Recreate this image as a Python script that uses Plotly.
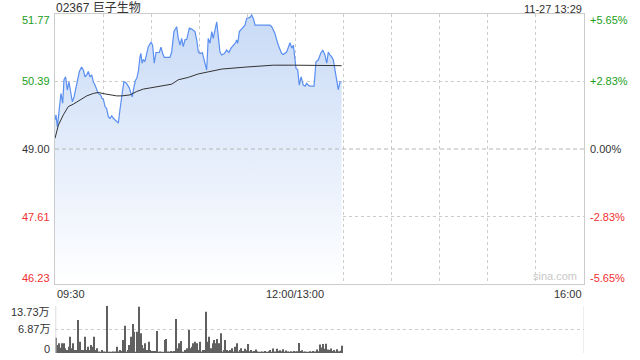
import plotly.graph_objects as go

# ---------------- data ----------------
price_t = [0, 0.6, 1.5, 2.7, 3.7, 4.8, 5.6, 6.6, 7.7, 8.7, 9.8, 10.8, 11.9, 13.5, 15.2, 16.6, 17.7, 18.7,
           19.8, 20.8, 21.8, 22.9, 23.9, 25, 26, 27, 28.5, 29.3, 30.2, 31.2, 32.2, 33.3, 34.3, 35.4, 36.4,
           37.4, 38.5, 39.5, 40.5, 41.2, 42.2, 43, 44.3, 45.3, 46.4, 47.4, 48.2, 49.3, 50.1, 51, 52, 53,
           53.6, 54.3, 55.1, 56.1, 57.2, 58.2, 59.9, 60.9, 61.9, 63, 65.1, 66.1, 67.2, 68.2, 71.7, 72.8,
           74.2, 75.9, 76.9, 78, 79, 80, 81.1, 82.2, 83.8, 85.3, 87.3, 88.4, 89.4, 90.5, 91.9, 93.1, 94.6,
           95.6, 96.7, 97.8, 98.7, 99.8, 100.9, 101.9, 102.9, 104, 105.6, 107.1, 108.5, 109.8, 111.2,
           112.7, 113.3, 114, 115, 116.5, 118.5, 119.6, 121.6, 122.7, 123.7, 124.8, 126.8, 134.1, 135.2,
           137.2, 138.3, 139.3, 141.4, 142.4, 144.5, 145.5, 146.6, 147.7, 148.7, 149.3, 150.3, 151.4,
           152.4, 153.5, 154.9, 156, 157, 158, 159.1, 161.6, 162.8, 164.3, 165.7, 167, 168.4, 169.5,
           170.5, 171.5, 172.6, 173.6, 174.7, 175.7, 176.7, 177.8, 178.8]
price_v = [49.60, 49.70, 49.46, 49.80, 50.14, 49.94, 50.42, 50.48, 50.21, 50.38, 50.14, 49.97, 50.07,
           50.35, 50.59, 50.68, 50.62, 50.48, 50.52, 50.59, 50.48, 50.52, 50.38, 50.31, 50.21, 50.14,
           50.11, 50.04, 50.02, 49.87, 49.83, 49.66, 49.63, 49.68, 49.63, 49.60, 49.56, 49.53, 49.80,
           50.01, 50.21, 50.38, 50.36, 50.31, 50.25, 50.14, 50.07, 50.28, 50.40, 50.45, 50.59, 50.89,
           50.96, 50.76, 50.83, 50.80, 50.96, 51.10, 51.19, 51.13, 50.76, 50.98, 50.98, 51.09, 50.96,
           50.88, 50.88, 50.99, 51.41, 51.51, 51.27, 51.13, 51.27, 51.10, 51.24, 51.25, 51.48, 51.46,
           51.41, 51.24, 50.99, 50.96, 50.98, 50.83, 50.62, 51.27, 51.17, 51.41, 51.27, 51.44, 51.61,
           51.30, 50.99, 50.93, 50.96, 51.03, 50.98, 51.07, 51.13, 51.18, 51.24, 51.17, 51.41, 51.46,
           51.54, 51.68, 51.70, 51.75, 51.68, 51.54, 51.54, 51.54, 51.51, 51.37, 51.24, 51.13, 50.96,
           50.94, 50.99, 51.10, 51.18, 51.07, 51.13, 50.96, 50.66, 50.62, 50.31, 50.48, 50.31, 50.29,
           50.35, 50.31, 50.29, 50.29, 50.79, 50.83, 50.96, 51.03, 50.93, 50.76, 50.99, 50.93, 50.89,
           50.83, 50.62, 50.45, 50.22, 50.38, 50.38]

avg_t = [0, 2.1, 5.2, 8.3, 11.4, 15.6, 19.8, 23.9, 27, 31.2, 38.5, 41.6, 46.8, 51, 55.1, 58.8, 64.5,
         72.8, 76.9, 83.2, 89.4, 97.8, 104, 118.5, 125.8, 136.2, 148.7, 178.8]
avg_v = [49.22, 49.49, 49.70, 49.87, 49.92, 50.01, 50.09, 50.14, 50.16, 50.13, 50.09, 50.09, 50.11,
         50.18, 50.23, 50.25, 50.28, 50.33, 50.42, 50.47, 50.54, 50.59, 50.64, 50.68, 50.70, 50.72,
         50.72, 50.71]

# volume in 万 shares, one bar per minute
volume = [4.4, 2.3, 2.8, 1.5, 2.8, 2.8, 1.4, 0.9, 1.8, 4.7, 1.4, 2.8, 0.9, 0.9, 9.6, 3.3, 0.9, 0.9,
          4.7, 0.9, 1.8, 0.9, 2.3, 1.8, 4.7, 0.9, 1.4, 0.4, 0.3, 0.9, 0.4, 0.2, 13.73, 0.1, 0.2, 0.2,
          0.4, 0.4, 1.8, 0.4, 0.9, 0.6, 3.8, 7.9, 0.2, 0.9, 2.3, 4.7, 8.4, 6.2, 0.3, 6.2, 13.4, 5.7,
          2.3, 1.4, 2.8, 0.9, 3.3,
          0.9, 0.6, 0.6, 0.6, 6.4, 0.2, 0.4, 0.2, 0.2, 3.8, 4.1, 0.4, 0.2, 0.6, 0.4, 0.6, 9.9, 1.4,
          2.8, 3.5, 0.4, 0.2, 0.9, 1.4, 6.7, 1.4, 1.8, 2.8, 3.3, 2.8, 0.9, 3.3, 0.4, 0.9, 0.9, 12.0,
          3.3, 4.7, 1.4, 2.8, 3.8, 2.8, 4.1, 2.8, 5.7, 0.4, 0.9, 3.8, 0.9, 0.6, 0.9, 1.4, 0.4, 1.8,
          2.8, 0.4, 0.9, 1.4, 0.6,
          1.2, 0.8, 2.6, 0.5, 0.9, 0.4, 0.6, 1.0, 0.5, 0.3,
          0.2, 0.4, 0.3, 0.6, 0.2, 0.5, 0.9, 0.3, 1.3, 0.4, 1.2, 0.6, 0.8,
          0.5, 1.1, 0.3, 0.7, 0.4, 0.2, 0.5, 0.3, 0.6, 0.4, 0.5, 2.9,
          0.6, 0.8, 0.3, 0.4, 0.2, 0.3, 0.5, 0.3, 0.6, 0.4, 1.0, 0.5, 2.5,
          1.6, 2.6, 1.2, 2.7, 1.0, 0.9, 1.3, 0.6, 0.9, 0.4, 1.1, 0.5, 0.7, 2.1]
vol_t = list(range(len(volume)))

y_ticks = [51.77, 50.39, 49.00, 47.61, 46.23]
y_labels = ["51.77", "50.39", "49.00", "47.61", "46.23"]
pct_labels = ["+5.65%", "+2.83%", "0.00%", "-2.83%", "-5.65%"]
label_colors = ["#1a9e1a", "#1a9e1a", "#333333", "#f03030", "#f03030"]
label_shift = [-6, 0, 0, 0, 6]
vol_ticks = [13.73, 6.87, 0]
vol_labels = ["13.73万", "6.87万", "0"]
vol_shift = [-6, 0, 4]
x_labels = ["09:30", "12:00/13:00", "16:00"]
x_pos = [0, 150, 330]

title = "02367 巨子生物"
stamp = "11-27 13:29"

FONT = "Liberation Sans, Arial, Noto Sans CJK SC, sans-serif"

fig = go.Figure()

fig.add_trace(go.Scatter(
    x=price_t, y=price_v, mode="lines",
    line=dict(color="#5a8ff0", width=1.2),
    fill="tozeroy",
    fillgradient=dict(type="vertical", start=46.23, stop=51.77,
                      colorscale=[[0, "rgba(255,255,255,1)"], [1, "rgba(200,218,246,1)"]]),
    xaxis="x", yaxis="y", hoverinfo="skip"))

fig.add_trace(go.Scatter(
    x=avg_t, y=avg_v, mode="lines", line=dict(color="#333333", width=1),
    xaxis="x", yaxis="y", hoverinfo="skip"))

fig.add_trace(go.Bar(
    x=vol_t, y=volume, width=0.65, marker=dict(color="#606060", line=dict(width=0)),
    xaxis="x2", yaxis="y2", hoverinfo="skip"))

fig.update_layout(
    width=640, height=360,
    margin=dict(l=55, r=56, t=14, b=7),
    paper_bgcolor="white", plot_bgcolor="rgba(0,0,0,0)",
    showlegend=False,
    font=dict(family=FONT, size=11, color="#333"),
    xaxis=dict(domain=[0, 1], range=[0, 330], anchor="y",
               tickvals=[30 * i for i in range(12)], showticklabels=False, ticks="",
               showgrid=True, gridcolor="#cccccc", griddash="dot", gridwidth=1,
               showline=True, linecolor="#cccccc", mirror=True, zeroline=False),
    yaxis=dict(domain=[0.2035, 1], range=[46.23, 51.77],
               tickvals=[50.39, 47.61], showticklabels=False, ticks="",
               showgrid=True, gridcolor="#cccccc", griddash="dot", gridwidth=1,
               showline=True, linecolor="#cccccc", mirror=True, zeroline=False),
    xaxis2=dict(domain=[0, 1], range=[-0.5, 330], anchor="y2", showticklabels=False,
                ticks="", showgrid=False, zeroline=False, showline=False),
    yaxis2=dict(domain=[0, 0.1395], range=[0, 13.73],
                tickvals=[6.87, 13.73], showticklabels=False, ticks="",
                showgrid=True, gridcolor="#cccccc", griddash="dot", gridwidth=1,
                zeroline=False, showline=False),
)

# dashed baseline at previous close
fig.add_shape(type="line", xref="x", yref="y", x0=0, x1=330, y0=49.00, y1=49.00,
              line=dict(color="#b4b4b4", width=1, dash="4px,3px"))
# side lines of the volume panel
for xv in (0, 330):
    fig.add_shape(type="line", xref="x2", yref="y2", x0=xv, x1=xv, y0=0, y1=13.73,
                  line=dict(color="#dddddd", width=1))

ann = []
for v, t, c, s, p in zip(y_ticks, y_labels, label_colors, label_shift, pct_labels):
    ann.append(dict(xref="paper", yref="y", x=0, y=v, text=t, xanchor="right", yanchor="middle",
                    xshift=-3, yshift=s, showarrow=False, font=dict(color=c, size=11)))
    ann.append(dict(xref="paper", yref="y", x=1, y=v, text=p, xanchor="left", yanchor="middle",
                    xshift=4, yshift=s, showarrow=False, font=dict(color=c, size=11)))
for v, t, s in zip(vol_ticks, vol_labels, vol_shift):
    ann.append(dict(xref="paper", yref="y2", x=0, y=v, text=t, xanchor="right", yanchor="middle",
                    xshift=-3, yshift=s, showarrow=False, font=dict(color="#333", size=11)))
anchors = ["left", "center", "right"]
for xp, t, a in zip(x_pos, x_labels, anchors):
    ann.append(dict(xref="x", yref="y", x=xp, y=46.23, text=t, xanchor=a, yanchor="top",
                    yshift=-2, showarrow=False, font=dict(color="#333", size=11)))
ann.append(dict(xref="paper", yref="paper", x=0, y=1, text=title, xanchor="left", yanchor="bottom",
                showarrow=False, xshift=-1, yshift=-3, font=dict(color="#333", size=12)))
ann.append(dict(xref="paper", yref="paper", x=1, y=1, text=stamp, xanchor="right", yanchor="bottom",
                showarrow=False, yshift=-3, font=dict(color="#333", size=11)))
ann.append(dict(xref="x", yref="y", x=312, y=46.23, text="sina.com", xanchor="center",
                yanchor="bottom", yshift=0, showarrow=False, font=dict(color="#c8c8c8", size=11)))
fig.update_layout(annotations=ann)

fig.write_html("out.html")
